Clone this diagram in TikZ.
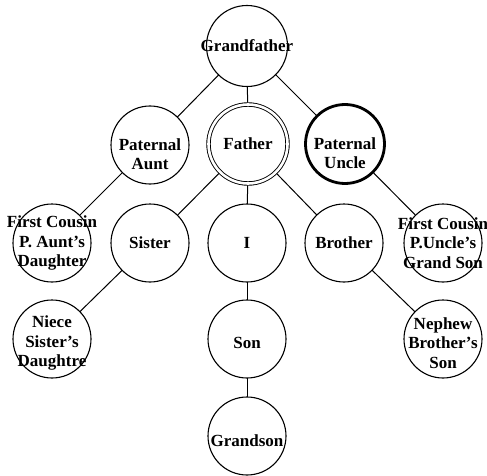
\documentclass[tikz,border=0pt]{standalone}
\usepackage{fontspec}
\setmainfont{Liberation Serif}
\begin{document}
\begin{tikzpicture}[x=1pt,y=-1pt,
  person/.style={circle, draw, line width=1.1pt, minimum size=78pt, inner sep=0pt, outer sep=0pt},
  txt/.style={font=\bfseries\fontsize{17}{19.5}\selectfont, align=center, inner sep=0pt},
  link/.style={line width=1pt}]
\useasboundingbox (0,0) rectangle (487,476);
% row 1
\node[person, minimum size=81pt, label={[txt]center:Grandfather}] (gf) at (247,46) {};
% row 2
\node[person, label={[txt, yshift=-9pt]center:{Paternal\\Aunt}}] (aunt) at (150,145) {};
\node[person, line width=0.9pt, double, double distance=2.6pt, minimum size=79pt, outer sep=2pt,
      label={[txt]center:Father}] (father) at (248,144) {};
\node[person, line width=2.8pt, minimum size=79pt, label={[txt, yshift=-9pt]center:{Paternal\\Uncle}}] (uncle) at (345,144) {};
% row 3
\node[person, label={[txt]center:{First Cousin\\P. Aunt’s\\Daughter}}] (cousina) at (52,243) {};
\node[person, label={[txt]center:Sister}] (sister) at (150,243) {};
\node[person, label={[txt]center:I}] (me) at (247,243) {};
\node[person, label={[txt]center:Brother}] (brother) at (344,243) {};
\node[person, label={[txt]center:{First Cousin\\P.Uncle’s\\Grand Son}}] (cousinu) at (443,243) {};
% row 4
\node[person, label={[txt, yshift=-4pt]center:{Niece\\Sister’s\\Daughtre}}] (niece) at (52,339) {};
\node[person, label={[txt, yshift=-4pt]center:Son}] (son) at (247,339) {};
\node[person, label={[txt, yshift=-4pt]center:{Nephew\\Brother’s\\Son}}] (nephew) at (443,339) {};
% row 5
\node[person, label={[txt, yshift=-5pt]center:Grandson}] (grandson) at (247,436) {};
% connectors
\draw[link] (gf) -- (aunt);
\draw[link] (gf) -- (father);
\draw[link] (gf) -- (uncle);
\draw[link] (aunt) -- (cousina);
\draw[link] (father) -- (sister);
\draw[link] (father) -- (me);
\draw[link] (father) -- (brother);
\draw[link] (uncle) -- (cousinu);
\draw[link] (sister) -- (niece);
\draw[link] (me) -- (son);
\draw[link] (son) -- (grandson);
\draw[link] (brother) -- (nephew);
\end{tikzpicture}
\end{document}
